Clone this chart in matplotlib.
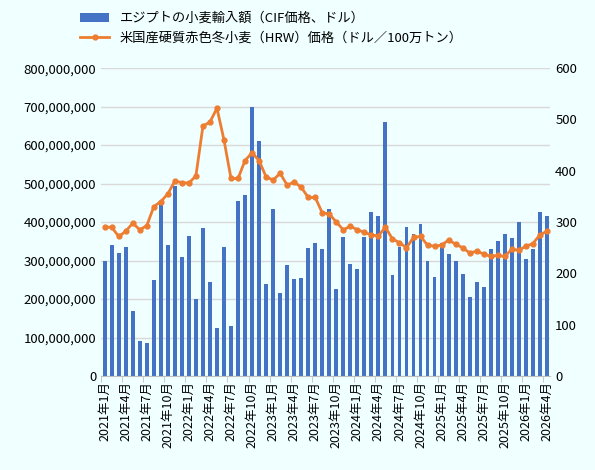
import matplotlib.pyplot as plt
import numpy as np

plt.rcParams['font.family'] = ['Noto Sans CJK JP', 'DejaVu Sans']

# エジプトの小麦輸入額（百万ドル）
imports_m = [298, 340, 320, 335, 168, 90, 85, 250, 450, 340,
             495, 310, 365, 200, 385, 245, 125, 335, 130, 455,
             470, 700, 610, 240, 433, 215, 288, 253, 255, 333,
             345, 330, 433, 225, 360, 290, 278, 362, 425, 415,
             660, 262, 335, 388, 370, 395, 300, 258, 345, 318,
             300, 265, 205, 245, 230, 330, 352, 370, 358, 400,
             305, 330, 425, 415]
# HRW価格（ドル/100万トン）
hrw_price = [290, 290, 272, 282, 298, 285, 293, 330, 340, 355,
             380, 377, 376, 390, 487, 495, 522, 460, 385, 385,
             420, 435, 420, 388, 382, 395, 372, 378, 368, 348,
             348, 318, 316, 300, 285, 292, 285, 280, 275, 273,
             290, 267, 260, 250, 270, 272, 255, 253, 255, 265,
             257, 250, 240, 243, 238, 233, 235, 233, 247, 245,
             253, 258, 275, 282]
months = [f"{2021 + i // 12}年{i % 12 + 1}月" for i in range(len(imports_m))]

bg = '#F0FFFF'
fig, ax = plt.subplots(figsize=(5.95, 4.70), dpi=100)
fig.patch.set_facecolor(bg)
ax.set_facecolor(bg)
x = np.arange(len(months))
ax.bar(x, np.array(imports_m) * 1e6, width=0.55, color='#4472C4', label='エジプトの小麦輸入額（CIF価格、ドル）', zorder=2)
ax.set_ylim(0, 800e6)
ax.set_yticks(np.arange(0, 800e6 + 1, 100e6))
ax.yaxis.set_major_formatter(plt.FuncFormatter(lambda v, p: f"{int(v):,}"))
ax.grid(axis='y', color='#D9D9D9', lw=1, zorder=0)
ax.set_xlim(-0.5, len(months) - 0.5)
ax.set_xticks(x[::3])
ax.set_xticklabels(months[::3], rotation=90, fontsize=9)
ax.set_xticks(x[::3] - 0.5, minor=True)
ax.tick_params(axis='x', which='major', length=0)
ax.tick_params(axis='x', which='minor', length=4, color='#BFBFBF')
ax.tick_params(axis='y', length=0, labelsize=9.5)
for s in ['top', 'right', 'left']:
    ax.spines[s].set_visible(False)
ax.spines['bottom'].set_color('#BFBFBF')

ax2 = ax.twinx()
ax2.plot(x, hrw_price, color='#ED7D31', lw=2, marker='o', ms=3.5, label='米国産硬質赤色冬小麦（HRW）価格（ドル／100万トン）')
ax2.set_ylim(0, 600)
ax2.set_yticks(range(0, 601, 100))
ax2.tick_params(axis='y', length=0, labelsize=9.5)
for s in ['top', 'right', 'left', 'bottom']:
    ax2.spines[s].set_visible(False)

h1, l1 = ax.get_legend_handles_labels()
h2, l2 = ax2.get_legend_handles_labels()
fig.legend(h1 + h2, l1 + l2, loc='upper left', bbox_to_anchor=(0.115, 1.0), frameon=False, fontsize=9.5, handlelength=2.2)

plt.subplots_adjust(left=0.17, right=0.925, top=0.855, bottom=0.2)
plt.savefig('out.png', facecolor=bg)
